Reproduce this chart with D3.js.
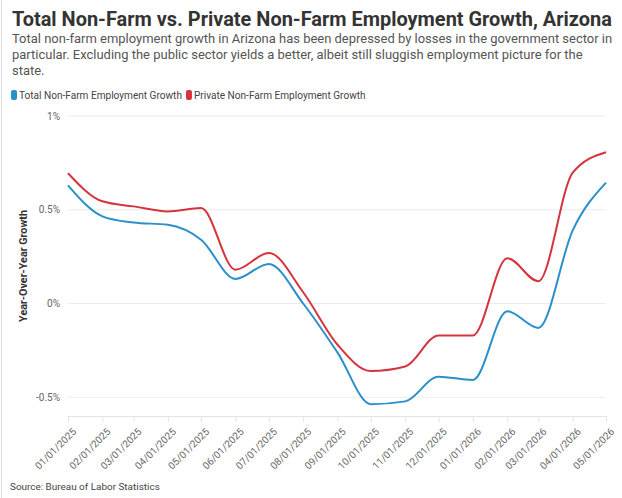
<!DOCTYPE html>
<html>
<head>
<meta charset="utf-8">
<script src="https://cdn.jsdelivr.net/npm/d3@7"></script>
<style>
  body { margin: 0; background: #fff; font-family: Roboto, "Noto Sans", sans-serif; }
</style>
</head>
<body>
<div id="chart"></div>
<script>
// data
const months = ["01/01/2025", "02/01/2025", "03/01/2025", "04/01/2025", "05/01/2025", "06/01/2025",
  "07/01/2025", "08/01/2025", "09/01/2025", "10/01/2025", "11/01/2025", "12/01/2025",
  "01/01/2026", "02/01/2026", "03/01/2026", "04/01/2026", "05/01/2026"];
const totalGrowth = [0.63, 0.465, 0.432, 0.42, 0.34, 0.131, 0.211, 0.0, -0.262, -0.537, -0.522,
  -0.39, -0.408, -0.041, -0.13, 0.39, 0.645];
const privateGrowth = [0.695, 0.545, 0.518, 0.491, 0.509, 0.18, 0.27, 0.06, -0.22, -0.36, -0.336,
  -0.17, -0.17, 0.241, 0.119, 0.698, 0.807];
const yTicks = [-0.5, 0, 0.5, 1];
const seriesNames = ["Total Non-Farm Employment Growth", "Private Non-Farm Employment Growth"];
const seriesColors = ["#2a8fcb", "#d5343d"];

const width = 622, height = 498;
const margin = { top: 116, right: 16, bottom: 82, left: 68 };

const parse = d3.timeParse("%m/%d/%Y");
const dates = months.map(parse);

const svg = d3.select("#chart").append("svg")
  .attr("width", width)
  .attr("height", height);

// scale a text's font so it spans the wanted width
function fit(sel, w) {
  const size = +sel.attr("font-size");
  const len = sel.node().getComputedTextLength();
  sel.attr("font-size", size * w / len);
  return sel;
}

// left border of the card
svg.append("line")
  .attr("x1", 1.5).attr("x2", 1.5).attr("y1", 0).attr("y2", height)
  .attr("stroke", "#ddd");

svg.append("text")
  .attr("x", 12).attr("y", 26)
  .attr("font-size", 18).attr("font-weight", 700).attr("fill", "#333")
  .text("Total Non-Farm vs. Private Non-Farm Employment Growth, Arizona")
  .call(fit, 600);

const sub = [
  "Total non-farm employment growth in Arizona has been depressed by losses in the government sector in",
  "particular. Excluding the public sector yields a better, albeit still sluggish employment picture for the",
  "state."
];
const subText = svg.append("g").selectAll("text")
  .data(sub)
  .join("text")
  .attr("x", 12)
  .attr("y", (d, i) => 43 + i * 16)
  .attr("font-size", 12.6).attr("fill", "#555")
  .text(d => d);
const subSize = 12.6 * 600 / subText.nodes()[0].getComputedTextLength();
subText.attr("font-size", subSize);

// legend
const legend = svg.append("g").attr("transform", "translate(11,95)");
let lx = 0;
seriesNames.forEach((name, i) => {
  const g = legend.append("g").attr("transform", `translate(${lx},0)`);
  g.append("rect").attr("x", 0).attr("y", -5).attr("width", 6).attr("height", 10)
    .attr("rx", 2).attr("fill", seriesColors[i]);
  const t = g.append("text").attr("x", 8).attr("y", 3.5)
    .attr("font-size", 9.6).attr("fill", "#444").text(name);
  if (i === 0) fit(t, 163);
  else t.attr("font-size", legend.select("text").attr("font-size"));
  lx += 8 + t.node().getComputedTextLength() + 4;
});

const x = d3.scaleTime()
  .domain(d3.extent(dates))
  .range([margin.left, width - margin.right]);

const y = d3.scaleLinear()
  .domain([-0.6, 1])
  .range([height - margin.bottom, margin.top]);

// grid
svg.append("g").selectAll("line")
  .data(yTicks)
  .join("line")
  .attr("x1", margin.left).attr("x2", width - margin.right)
  .attr("y1", d => y(d)).attr("y2", d => y(d))
  .attr("stroke", "#ececec");

svg.append("g").selectAll("text")
  .data(yTicks)
  .join("text")
  .attr("x", margin.left - 8)
  .attr("y", d => y(d) + 3.5)
  .attr("text-anchor", "end")
  .attr("font-size", 10).attr("fill", "#666")
  .text(d => d + "%");

svg.append("text")
  .attr("transform", "translate(27,266) rotate(-90)")
  .attr("text-anchor", "middle")
  .attr("font-size", 10.5).attr("font-weight", 700).attr("fill", "#333")
  .text("Year-Over-Year Growth")
  .call(fit, 112);

// x axis
const xAxis = svg.append("g")
  .attr("transform", `translate(0,${height - margin.bottom})`)
  .call(d3.axisBottom(x).tickValues(dates).tickFormat(d3.timeFormat("%m/%d/%Y")).tickSize(6).tickSizeOuter(0));
xAxis.select(".domain").attr("stroke", "#e3e3e3");
xAxis.selectAll(".tick line").attr("stroke", "#e3e3e3");
xAxis.selectAll(".tick text")
  .attr("font-family", "Roboto, sans-serif")
  .attr("font-size", 10).attr("fill", "#666")
  .attr("text-anchor", "end")
  .attr("dx", 0).attr("dy", 0)
  .attr("transform", "translate(2,10) rotate(-45)");

// lines
const line = d3.line()
  .x((d, i) => x(dates[i]))
  .y(d => y(d))
  .curve(d3.curveMonotoneX);

[totalGrowth, privateGrowth].forEach((vals, i) => {
  svg.append("path")
    .datum(vals)
    .attr("d", line)
    .attr("fill", "none")
    .attr("stroke", seriesColors[i])
    .attr("stroke-width", 2);
});

svg.append("text")
  .attr("x", 10).attr("y", 490)
  .attr("font-size", 10).attr("fill", "#444")
  .text("Source: Bureau of Labor Statistics")
  .call(fit, 150);
</script>
</body>
</html>
